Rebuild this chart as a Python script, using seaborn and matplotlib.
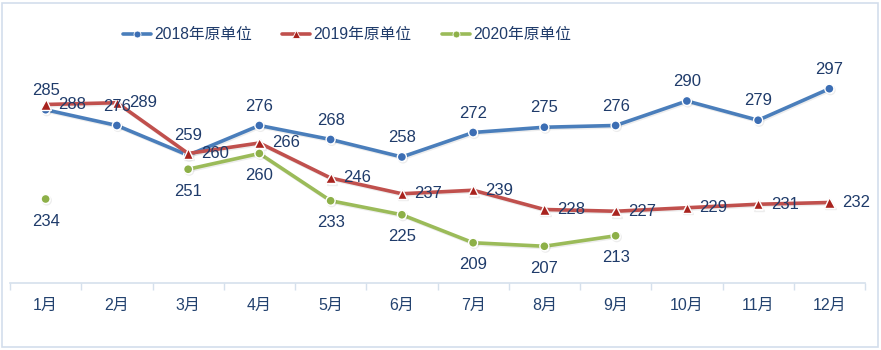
import matplotlib
matplotlib.use("Agg")
import matplotlib.pyplot as plt
import seaborn as sns
import pandas as pd
import numpy as np
from matplotlib import patheffects as pe
from matplotlib.patches import Rectangle
from matplotlib.lines import Line2D

# ---- data ----
months = ["1月", "2月", "3月", "4月", "5月", "6月", "7月", "8月", "9月", "10月", "11月", "12月"]
y2018 = [285, 276, 259, 276, 268, 258, 272, 275, 276, 290, 279, 297]
y2019 = [288, 289, 260, 266, 246, 237, 239, 228, 227, 229, 231, 232]
y2020 = [234, None, 251, 260, 233, 225, 209, 207, 213, None, None, None]
series_names = ["2018年原单位", "2019年原单位", "2020年原单位"]

# ---- style ----
sns.set_theme(style="white")
plt.rcParams["font.family"] = ["Liberation Sans", "Noto Sans CJK SC", "DejaVu Sans"]

line_colors = ["#4A7EBB", "#C0504D", "#9BBB59"]
marker_faces = ["#3C6EB4", "#A8231E", "#8DB048"]
marker_shapes = ["o", "^", "o"]
label_offsets = [((0, 14), "center", "center"),
                 ((9, 0), "left", "center"),
                 ((0, -16), "center", "center")]
text_color = "#1F3B6A"
axis_color = "#D5E0EC"

W, H = 881, 350
fig = plt.figure(figsize=(W / 100, H / 100), dpi=100)
ax = fig.add_axes([10 / W, (H - 283) / H, (865 - 10) / W, (283 - 49) / H])

shadow = [pe.SimpleLineShadow(offset=(0.8, -1.0), shadow_color="black", alpha=0.07),
          pe.Normal()]

legend_handles = []
for name, vals, lc, mf, mk, (off, ha, va) in zip(
        series_names, [y2018, y2019, y2020], line_colors, marker_faces,
        marker_shapes, label_offsets):
    df = pd.DataFrame({"x": np.arange(len(months)), "y": vals}).dropna()
    # split into runs of consecutive months so gaps are not bridged
    df["run"] = (df["x"].diff() != 1).cumsum()
    for _, seg in df.groupby("run"):
        n_before = len(ax.get_lines())
        sns.lineplot(data=seg, x="x", y="y", ax=ax, color=lc, linewidth=2.6,
                     marker=mk, markersize=6.5 if mk == "o" else 7.5,
                     markerfacecolor=mf, markeredgecolor="white",
                     markeredgewidth=1.0, legend=False, estimator=None)
        ax.get_lines()[n_before].set_path_effects(shadow)
    for xi, yi in zip(df["x"], df["y"]):
        ax.annotate(f"{int(yi)}", (xi, yi), xytext=off, textcoords="offset points",
                    ha=ha, va=va, fontsize=12, color=text_color)
    legend_handles.append(Line2D([], [], color=lc, linewidth=2.6, marker=mk,
                                 markersize=5 if mk == "o" else 6,
                                 markerfacecolor=mf, markeredgecolor="white",
                                 markeredgewidth=0.6))

# ---- axes ----
ax.set_xlim(-0.5, len(months) - 0.5)
ax.set_ylim(186, 319.7)
ax.set_yticks([])
ax.set_xlabel("")
ax.set_ylabel("")
ax.set_xticks(np.arange(len(months)))
ax.set_xticklabels(months, fontsize=11.5, color="#23426F")
ax.set_xticks(np.arange(-0.5, len(months), 1), minor=True)
ax.tick_params(axis="x", which="major", length=0, pad=11)
ax.tick_params(axis="x", which="minor", bottom=True, length=5, width=1,
               color=axis_color, direction="out")
for side in ["left", "right", "top"]:
    ax.spines[side].set_visible(False)
ax.spines["bottom"].set_color(axis_color)
ax.spines["bottom"].set_linewidth(1.2)
ax.patch.set_alpha(0)

# ---- legend ----
leg = ax.legend(legend_handles, series_names, loc="center",
                bbox_to_anchor=(347 / W, (H - 35) / H), bbox_transform=fig.transFigure,
                ncol=3, frameon=False, fontsize=11.3, handlelength=1.8,
                handletextpad=0.2, columnspacing=1.9)
for t in leg.get_texts():
    t.set_color(text_color)

# ---- outer border ----
fig.add_artist(Rectangle((2 / W, 3 / H), (878 - 2) / W, (347 - 3) / H,
                         transform=fig.transFigure, fill=False,
                         edgecolor="#D3DEEC", linewidth=1.2))

fig.savefig("out.png", dpi=100)
